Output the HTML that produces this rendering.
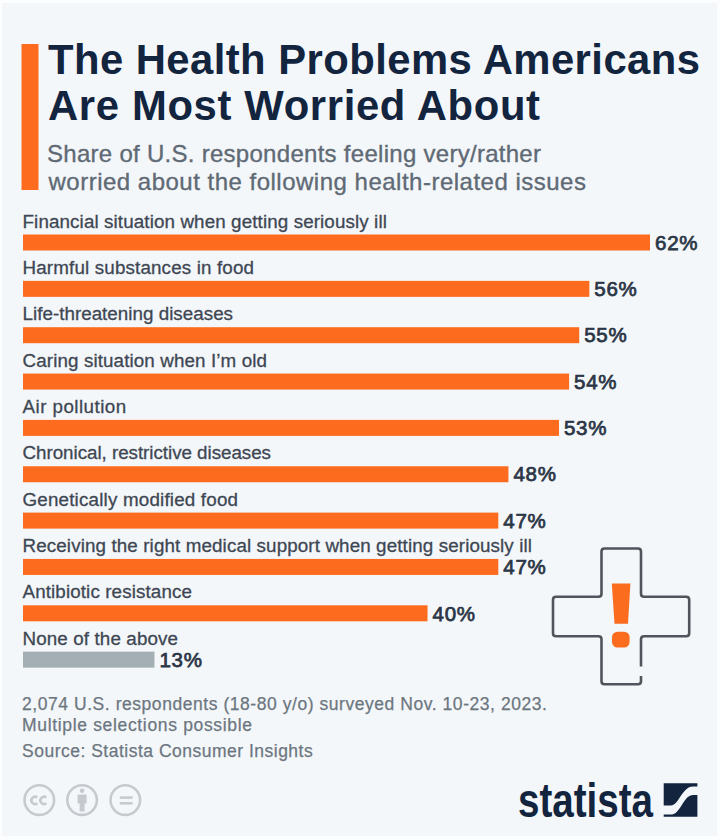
<!DOCTYPE html>
<html><head><meta charset="utf-8">
<style>
html,body{margin:0;padding:0;width:720px;height:840px;overflow:hidden;background:#fcfdfe;}
svg{position:absolute;left:0;top:0;display:block}
text{font-family:'Liberation Sans', sans-serif;}
.title{font-weight:bold;font-size:41.8px;fill:#13243f;}
.sub{font-size:24px;fill:#5f6a75;stroke:#5f6a75;stroke-width:0.35px;}
.lab{font-size:18.8px;fill:#3e4753;stroke:#3e4753;stroke-width:0.3px;}
.val{font-weight:normal;font-size:20.5px;fill:#2b3646;stroke:#2b3646;stroke-width:0.75px;}
.foot{font-size:17.5px;fill:#6c7680;stroke:#6c7680;stroke-width:0.25px;}
</style></head><body>
<svg width="720" height="840" viewBox="0 0 720 840">
<rect x="0" y="0" width="720" height="840" fill="#fcfdfe"/>
<rect x="2" y="3" width="715" height="833" fill="#f4f7fa"/>
<rect x="21.5" y="44" width="17" height="146" fill="#fd6b1f"/>
<text x="48" y="74" class="title" textLength="652.00" lengthAdjust="spacing">The Health Problems Americans</text>
<text x="48" y="120.4" class="title" textLength="492.00" lengthAdjust="spacing">Are Most Worried About</text>
<text x="47" y="161.5" class="sub" textLength="494.00" lengthAdjust="spacing">Share of U.S. respondents feeling very/rather</text>
<text x="48.5" y="190" class="sub" textLength="537.40" lengthAdjust="spacing">worried about the following health-related issues</text>
<text x="22.5" y="227.60" class="lab" textLength="364.40" lengthAdjust="spacing">Financial situation when getting seriously ill</text>
<rect x="23" y="234.50" width="627.01" height="16" fill="#fd6b1f"/>
<text x="655.01" y="249.70" class="val" textLength="42.50" lengthAdjust="spacing">62%</text>
<text x="22.5" y="273.95" class="lab" textLength="231.50" lengthAdjust="spacing">Harmful substances in food</text>
<rect x="23" y="280.85" width="566.33" height="16" fill="#fd6b1f"/>
<text x="594.33" y="296.05" class="val" textLength="42.50" lengthAdjust="spacing">56%</text>
<text x="22.5" y="320.30" class="lab" textLength="210.50" lengthAdjust="spacing">Life-threatening diseases</text>
<rect x="23" y="327.20" width="556.21" height="16" fill="#fd6b1f"/>
<text x="584.21" y="342.40" class="val" textLength="42.50" lengthAdjust="spacing">55%</text>
<text x="22.5" y="366.65" class="lab" textLength="244.50" lengthAdjust="spacing">Caring situation when I’m old</text>
<rect x="23" y="373.55" width="546.10" height="16" fill="#fd6b1f"/>
<text x="574.10" y="388.75" class="val" textLength="42.50" lengthAdjust="spacing">54%</text>
<text x="22.5" y="413.00" class="lab" textLength="103.70" lengthAdjust="spacing">Air pollution</text>
<rect x="23" y="419.90" width="535.99" height="16" fill="#fd6b1f"/>
<text x="563.99" y="435.10" class="val" textLength="42.50" lengthAdjust="spacing">53%</text>
<text x="22.5" y="459.35" class="lab" textLength="248.50" lengthAdjust="spacing">Chronical, restrictive diseases</text>
<rect x="23" y="466.25" width="485.42" height="16" fill="#fd6b1f"/>
<text x="513.42" y="481.45" class="val" textLength="42.50" lengthAdjust="spacing">48%</text>
<text x="22.5" y="505.70" class="lab" textLength="215.50" lengthAdjust="spacing">Genetically modified food</text>
<rect x="23" y="512.60" width="475.31" height="16" fill="#fd6b1f"/>
<text x="503.31" y="527.80" class="val" textLength="42.50" lengthAdjust="spacing">47%</text>
<text x="22.5" y="552.05" class="lab" textLength="509.50" lengthAdjust="spacing">Receiving the right medical support when getting seriously ill</text>
<rect x="23" y="558.95" width="475.31" height="16" fill="#fd6b1f"/>
<text x="503.31" y="574.15" class="val" textLength="42.50" lengthAdjust="spacing">47%</text>
<text x="22.5" y="598.40" class="lab" textLength="169.40" lengthAdjust="spacing">Antibiotic resistance</text>
<rect x="23" y="605.30" width="404.52" height="16" fill="#fd6b1f"/>
<text x="432.52" y="620.50" class="val" textLength="42.50" lengthAdjust="spacing">40%</text>
<text x="22.5" y="644.75" class="lab" textLength="155.50" lengthAdjust="spacing">None of the above</text>
<rect x="23" y="651.65" width="131.47" height="16" fill="#a4aeb5"/>
<text x="159.47" y="666.85" class="val" textLength="42.50" lengthAdjust="spacing">13%</text>
<text x="22" y="710" class="foot" textLength="524.90" lengthAdjust="spacing">2,074 U.S. respondents (18-80 y/o) surveyed Nov. 10-23, 2023.</text>
<text x="22" y="731" class="foot" textLength="230.00" lengthAdjust="spacing">Multiple selections possible</text>
<text x="22" y="756.7" class="foot" textLength="290.70" lengthAdjust="spacing">Source: Statista Consumer Insights</text>
<!-- cross -->
<path d="M641,676 V681.3 Q641,684.3 638,684.3 H604.5 Q601.5,684.3 601.5,681.3 V639.3 Q601.5,636.3 598.5,636.3 H556 Q553,636.3 553,633.3 V599.7 Q553,596.7 556,596.7 H598.5 Q601.5,596.7 601.5,593.7 V551.5 Q601.5,548.5 604.5,548.5 H638 Q641,548.5 641,551.5 V593.7 Q641,596.7 644,596.7 H686.2 Q689.2,596.7 689.2,599.7 V633.3 Q689.2,636.3 686.2,636.3 H644 Q641,636.3 641,639.3 V666.5" fill="none" stroke="#50555c" stroke-width="2.6"/>
<path d="M611.8,583.5 H630.4 L628,623.8 H614.5 Z" fill="#fb6c1f"/>
<rect x="612" y="631.7" width="17.6" height="15.8" rx="5.5" ry="5.5" fill="#fb6c1f"/>
<!-- cc icons -->
<g fill="none" stroke="#c6cacf" stroke-width="2.6">
<circle cx="39.3" cy="800.1" r="14.8"/>
<circle cx="82.1" cy="800.1" r="14.8"/>
<circle cx="125.3" cy="800.1" r="14.8"/>
<path d="M37.3,797.6 A3.6,3.6 0 1 0 37.3,803.2" />
<path d="M46.3,797.6 A3.6,3.6 0 1 0 46.3,803.2" />
<line x1="119.8" y1="797.6" x2="132.6" y2="797.6"/>
<line x1="119.8" y1="803.3" x2="132.6" y2="803.3"/>
</g>
<g fill="#c6cacf">
<circle cx="82.1" cy="790.8" r="2.3"/>
<path d="M77.6,794.6 H86.6 V803.5 H84.6 V811.5 H79.6 V803.5 H77.6 Z"/>
</g>
<!-- logo -->
<text x="518" y="816.8" font-family="'Liberation Sans', sans-serif" font-weight="bold" font-size="48.5" fill="#13243f" textLength="135.00" lengthAdjust="spacingAndGlyphs">statista</text>
<path d="M663.7,783.3 H697.4 V786.5 H693 C688,786.5 685.5,790 682.5,793.5 C679,798 676,805.5 670.5,805.5 H663.7 Z" fill="#13243f"/>
<path d="M663.7,816.7 V814.6 H670.5 C676,814.6 678.5,810 681.5,805.5 C684.5,801 687.5,795.1 693.5,795.1 H697.4 V816.7 Z" fill="#13243f"/>
</svg>
</body></html>
